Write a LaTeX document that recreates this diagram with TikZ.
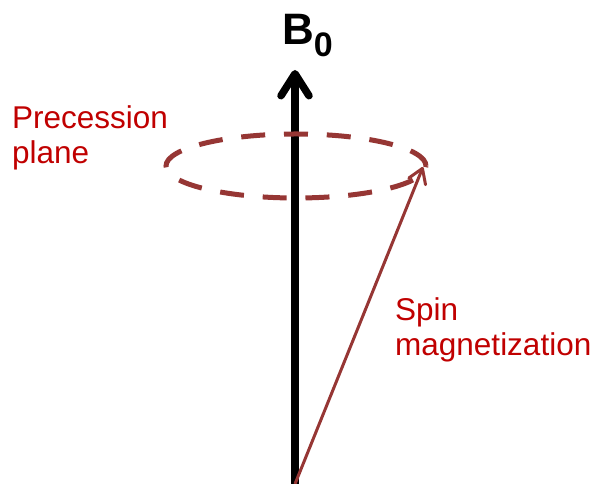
\documentclass[tikz,border=0pt]{standalone}
\usepackage{fontspec}
\setmainfont{Liberation Sans}
\usetikzlibrary{arrows.meta}
\definecolor{precred}{RGB}{150,54,52}
\definecolor{labred}{RGB}{192,0,0}
\begin{document}
\begin{tikzpicture}[x=1pt,y=1pt,
  label text/.style={inner sep=0pt, text=labred, align=left, anchor=north west,
    font=\fontsize{31.5}{35.5}\selectfont},
  field/.style={line width=7.5pt, -{Straight Barb[length=22pt,width=28pt,round]}},
  spin/.style={precred, line width=3pt, -{Straight Barb[length=14pt,width=18pt,round]}},
  plane/.style={precred, line width=5pt, dash pattern=on 24pt off 18.82pt, dash phase=1.3pt}]
\useasboundingbox (0,0) rectangle (598,484);
\coordinate (origin) at (295,0);
\coordinate (ftop) at (295,414);
\coordinate (stop) at (423,317);
\coordinate (pc) at (296,318);
\draw[field] (origin) -- (ftop);
\draw[plane] (pc) ellipse [x radius=130, y radius=32];
\draw[spin] (origin) -- (stop);
\node[anchor=base west, inner sep=0pt, font=\bfseries\fontsize{44}{44}\selectfont] (b0) at (282,439)
  {B\raisebox{-12pt}{\fontsize{34}{34}\selectfont 0}};
\node[label text] (prec) at (12,379) {Precession\\plane};
\node[label text] (spinlab) at (395,187) {Spin\\magnetization};
\end{tikzpicture}
\end{document}
